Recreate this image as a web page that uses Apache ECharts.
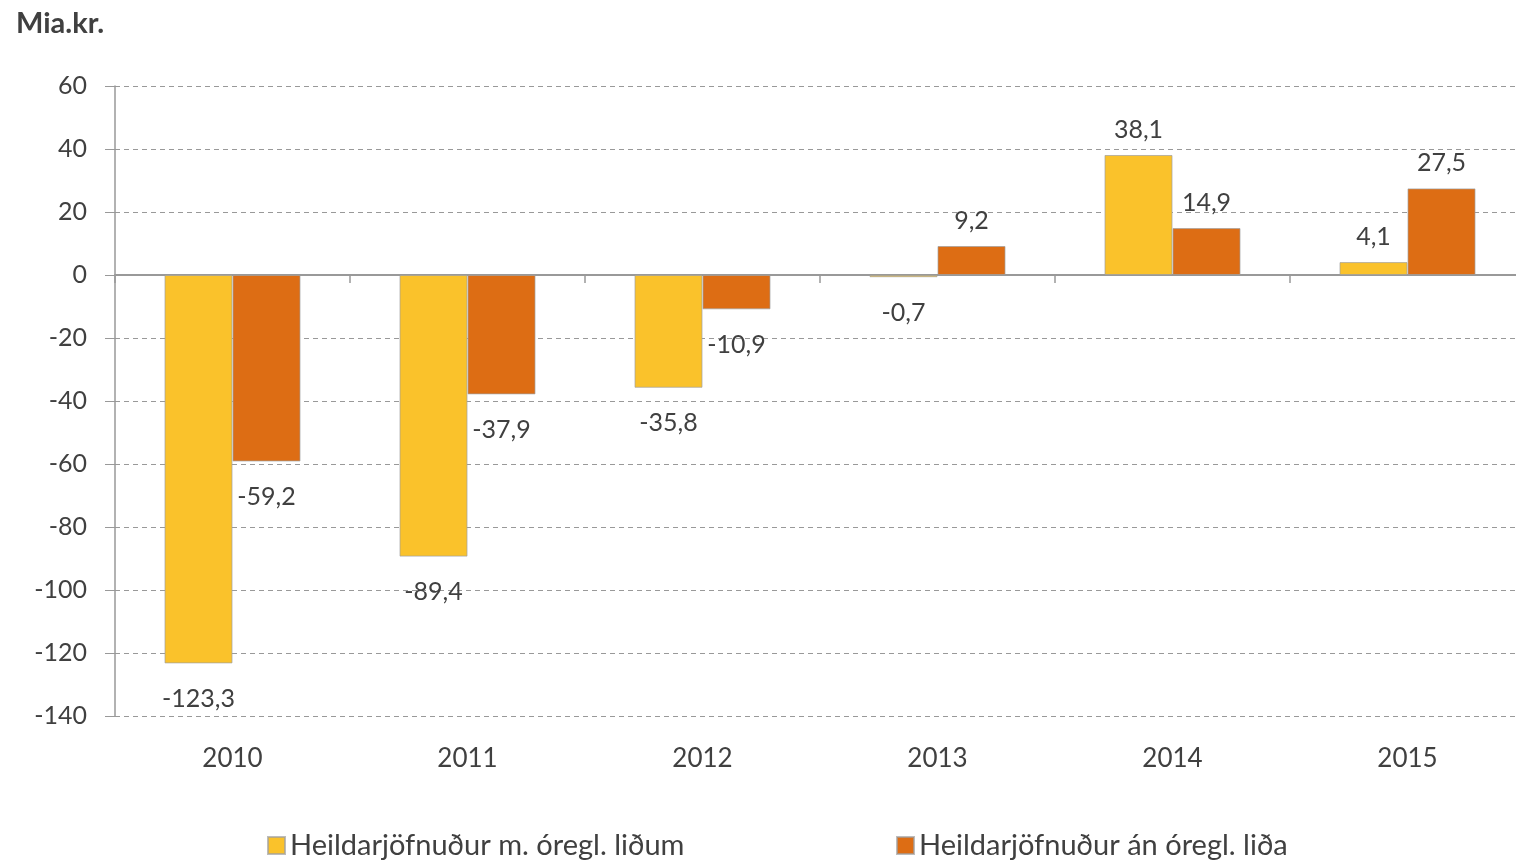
<!DOCTYPE html>
<html>
<head>
<meta charset="utf-8">
<script src="https://cdn.jsdelivr.net/npm/echarts@6/dist/echarts.min.js"></script>
<style>
  html, body { margin: 0; padding: 0; background: #fff; }
  #chart { width: 1516px; height: 861px; }
</style>
</head>
<body>
<div id="chart"></div>
<script>
// data
const years = ['2010', '2011', '2012', '2013', '2014', '2015']
const withIrregular = [-123.3, -89.4, -35.8, -0.7, 38.1, 4.1]
const withoutIrregular = [-59.2, -37.9, -10.9, 9.2, 14.9, 27.5]
const seriesNames = ['Heildarjöfnuður m. óregl. liðum', 'Heildarjöfnuður án óregl. liða']
const yTicks = { min: -140, max: 60, interval: 20 }

const textColor = '#404040'
const font = 'Lato, "Open Sans", sans-serif'

function toItems(values) {
  return values.map(v => ({
    value: v,
    label: {
      position: v < 0 ? 'bottom' : 'top',
      distance: v < 0 ? 23 : 13
    }
  }))
}

function barSeries(name, values, color) {
  return {
    name: name,
    type: 'bar',
    xAxisIndex: 0,
    barWidth: 68,
    barGap: '0%',
    itemStyle: {
      color: color,
      borderColor: 'rgba(160,160,160,0.7)',
      borderWidth: 1
    },
    label: {
      show: true,
      color: textColor,
      fontSize: 25,
      fontFamily: font,
      formatter: p => String(p.value).replace('.', ',')
    },
    data: toItems(values)
  }
}

let chart = echarts.init(document.getElementById('chart'))
let option = {
  animation: false,
  title: {
    text: 'Mia.kr.',
    left: 11,
    top: 4,
    textStyle: { color: textColor, fontSize: 29, fontWeight: 'bold', fontFamily: font }
  },
  grid: { left: 115, width: 1410, top: 86, bottom: 145, outerBoundsMode: 'none', containLabel: false },
  legend: [
    {
      data: [seriesNames[0]],
      left: 262, top: 826,
      itemWidth: 17, itemHeight: 17, itemGap: 8, icon: 'rect',
      textStyle: { color: textColor, fontSize: 29, fontFamily: font }
    },
    {
      data: [seriesNames[1]],
      left: 891, top: 826,
      itemWidth: 17, itemHeight: 17, itemGap: 8, icon: 'rect',
      textStyle: { color: textColor, fontSize: 29, fontFamily: font }
    }
  ],
  xAxis: [
    {
      type: 'category',
      data: years,
      axisLine: { onZero: true, lineStyle: { color: '#999', width: 2 } },
      axisTick: { show: true, length: 8, lineStyle: { color: '#999', width: 1.5 } },
      axisLabel: { show: false }
    },
    {
      type: 'category',
      data: years,
      position: 'bottom',
      axisLine: { show: false, onZero: false },
      axisTick: { show: false },
      axisLabel: { margin: 30, color: textColor, fontSize: 26, fontFamily: font }
    }
  ],
  yAxis: {
    type: 'value',
    min: yTicks.min,
    max: yTicks.max,
    interval: yTicks.interval,
    axisLine: { show: true, lineStyle: { color: '#999', width: 1.5 } },
    axisTick: { show: true, length: 10, lineStyle: { color: '#999' } },
    axisLabel: { margin: 28, color: textColor, fontSize: 25, fontFamily: font },
    splitLine: { lineStyle: { color: '#999', type: [5, 4], width: 1 } }
  },
  series: [
    barSeries(seriesNames[0], withIrregular, '#FAC22B'),
    barSeries(seriesNames[1], withoutIrregular, '#DD6D14')
  ]
}
chart.setOption(option)
</script>
</body>
</html>
